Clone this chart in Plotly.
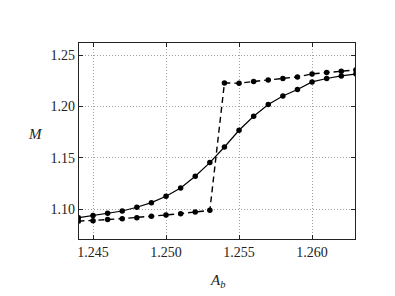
import plotly.graph_objects as go

x_vals = [1.244, 1.245, 1.246, 1.247, 1.248, 1.249, 1.250, 1.251, 1.252, 1.253,
          1.254, 1.255, 1.256, 1.257, 1.258, 1.259, 1.260, 1.261, 1.262, 1.263]
m_solid = [1.0916, 1.0936, 1.0958, 1.0981, 1.1017, 1.1062, 1.1124, 1.1205, 1.1319, 1.1452,
           1.1604, 1.1767, 1.1904, 1.2018, 1.2101, 1.2164, 1.2238, 1.2271, 1.2296, 1.2316]
m_dashed = [1.0882, 1.0886, 1.0897, 1.0906, 1.0916, 1.0929, 1.0942, 1.0955, 1.0971, 1.0987,
            1.2228, 1.2225, 1.2242, 1.2257, 1.2271, 1.2287, 1.2316, 1.2329, 1.2342, 1.2355]
x_ticks = [1.245, 1.250, 1.255, 1.260]
x_tick_labels = ["1.245", "1.250", "1.255", "1.260"]
y_ticks = [1.10, 1.15, 1.20, 1.25]
y_tick_labels = ["1.10", "1.15", "1.20", "1.25"]

font_family = "Liberation Serif"

fig = go.Figure()
fig.add_trace(go.Scatter(x=x_vals, y=m_solid, mode="lines+markers",
                         line=dict(color="black", width=1.2),
                         marker=dict(color="black", size=5.5),
                         cliponaxis=True, showlegend=False))
fig.add_trace(go.Scatter(x=x_vals, y=m_dashed, mode="lines+markers",
                         line=dict(color="black", width=1.4, dash="6px,4px"),
                         marker=dict(color="black", size=5.5),
                         cliponaxis=True, showlegend=False))

axis_common = dict(showline=True, linecolor="#222", linewidth=1.2, mirror="allticks",
                   ticks="inside", ticklen=4, tickcolor="#222", automargin=False,
                   showgrid=True, gridcolor="#a0a0a0", griddash="1px,2px", gridwidth=1,
                   zeroline=False, tickfont=dict(family=font_family, size=14, color="#222"))

fig.update_xaxes(range=[1.24404, 1.26294], tickvals=x_ticks, ticktext=x_tick_labels, **axis_common)
fig.update_yaxes(range=[1.0708, 1.2617], tickvals=y_ticks, ticktext=y_tick_labels, **axis_common)

fig.add_annotation(text="<i>M</i>", xref="paper", yref="paper", x=-0.156, y=0.535,
                   xanchor="center", yanchor="middle",
                   showarrow=False, font=dict(family=font_family, size=15, color="#222"))
fig.add_annotation(text="<i>A<sub>b</sub></i>", xref="paper", yref="paper", x=0.5, y=-0.215,
                   xanchor="center", yanchor="middle",
                   showarrow=False, font=dict(family=font_family, size=15, color="#222"))

fig.update_layout(width=395, height=296, margin=dict(l=79, r=40, t=43, b=57, autoexpand=False),
                  plot_bgcolor="white", paper_bgcolor="white",
                  font=dict(family=font_family))

fig.write_html("out.html", config={"displayModeBar": False},
               post_script="document.body.style.margin='0';")
